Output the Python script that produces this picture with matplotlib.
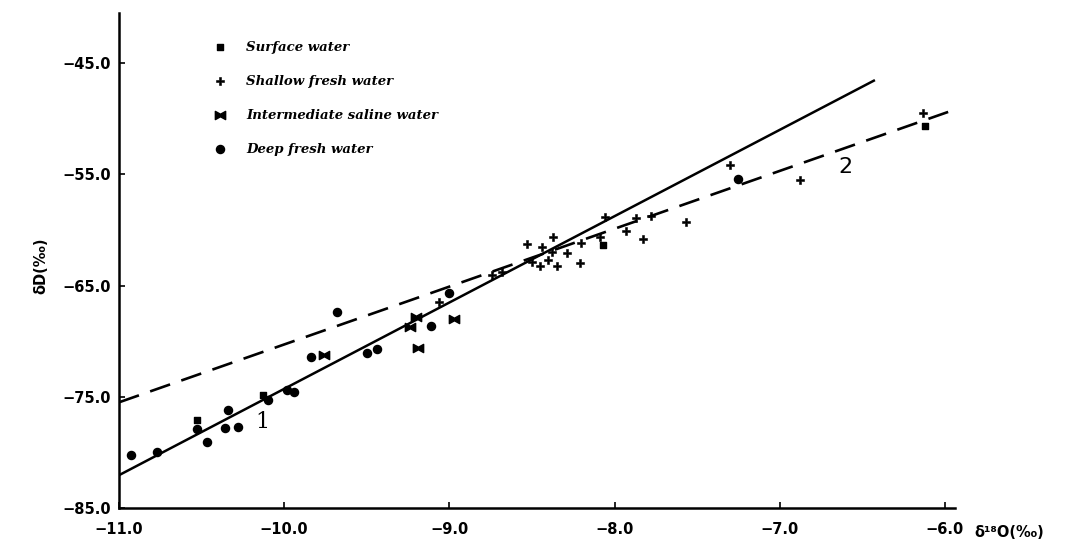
"""
dD vs d18O scatter with two regression lines (scanned figure recreation).
"""

import numpy as np
import matplotlib
matplotlib.use("Agg")
import matplotlib.pyplot as plt
from matplotlib.path import Path

# ── Data ───────────────────────────────────────────────────────────────
surface_d18o = [-10.53, -10.13, -8.07, -6.12]
surface_dd   = [-77.1, -74.85, -61.37, -50.7]

shallow_d18o = [-9.06, -8.74, -8.68, -8.53, -8.50, -8.45, -8.44, -8.40, -8.38,
                -8.37, -8.35, -8.29, -8.21, -8.20, -8.09, -8.06, -7.93, -7.87,
                -7.83, -7.78, -7.57, -7.30, -6.88, -6.13]
shallow_dd   = [-66.46, -64.07, -63.77, -61.28, -62.87, -63.26, -61.5, -62.7,
                -61.97, -60.6, -63.26, -62.06, -62.96, -61.2, -60.6, -58.8,
                -60.1, -58.9, -60.85, -58.76, -59.27, -54.17, -55.5, -49.5]

inter_d18o = [-9.76, -9.24, -9.20, -9.19, -8.97]
inter_dd   = [-71.26, -68.7, -67.8, -70.6, -68.05]

deep_d18o = [-10.93, -10.77, -10.53, -10.47, -10.36, -10.34, -10.28, -10.10,
             -9.98, -9.94, -9.84, -9.68, -9.50, -9.44, -9.11, -9.00, -7.25]
deep_dd   = [-80.25, -79.95, -77.9, -79.06, -77.85, -76.2, -77.7, -75.3,
             -74.4, -74.55, -71.4, -67.36, -71.1, -70.7, -68.65, -65.65, -55.46]

# regression lines: (x range, intercept at x=-11, slope)
line1_x = [-11.0, -6.43]
line1_y0, line1_slope = -82.05, 7.76
line2_x = [-11.0, -5.98]
line2_y0, line2_slope = -75.5, 5.20

xticks = [-11.0, -10.0, -9.0, -8.0, -7.0, -6.0]
yticks = [-85.0, -75.0, -65.0, -55.0, -45.0]

# ── Plot ───────────────────────────────────────────────────────────────
plt.rcParams["font.family"] = ["DejaVu Sans"]

bowtie = Path([(-1, -0.8), (-1, 0.8), (0, 0.25), (1, 0.8), (1, -0.8),
               (0, -0.25), (-1, -0.8)],
              [Path.MOVETO] + [Path.LINETO] * 5 + [Path.CLOSEPOLY])

fig = plt.figure(figsize=(10.77, 5.47), dpi=100)
ax = fig.add_axes([0.1105, 0.0713, 0.776, 0.905])

x1 = np.array(line1_x)
ax.plot(x1, line1_y0 + line1_slope * (x1 + 11), color="black", lw=1.8)
x2 = np.array(line2_x)
ax.plot(x2, line2_y0 + line2_slope * (x2 + 11), color="black", lw=1.9,
        dashes=(8, 4.5))

ax.scatter(surface_d18o, surface_dd, marker="s", s=24, color="black",
           label="Surface water", zorder=3)
ax.scatter(shallow_d18o, shallow_dd, marker="P", s=32, color="black",
           edgecolors="black", linewidths=0.4,
           label="Shallow fresh water", zorder=3)
ax.scatter(inter_d18o, inter_dd, marker=bowtie, s=55, color="black",
           label="Intermediate saline water", zorder=3)
ax.scatter(deep_d18o, deep_dd, marker="o", s=34, color="black",
           label="Deep fresh water", zorder=3)

ax.text(-10.13, -77.3, "1", fontsize=16, family="DejaVu Serif",
        ha="center", va="center")
ax.text(-6.60, -54.35, "2", fontsize=16, family="DejaVu Sans",
        ha="center", va="center")

ax.set_xlim(-11.0, -5.94)
ax.set_ylim(-85.0, -40.5)
ax.set_xticks(xticks)
ax.set_yticks(yticks)
ax.set_xticklabels([f"{v:.1f}".replace("-", "\u2212") for v in xticks],
                   fontsize=10.5, fontweight="bold")
ax.set_yticklabels([f"{v:.1f}".replace("-", "\u2212") for v in yticks],
                   fontsize=10.5, fontweight="bold")
ax.tick_params(axis="y", direction="in", length=4, width=1.2, pad=6)
ax.tick_params(axis="x", direction="in", length=4, width=1.2, pad=10)
for side in ("top", "right"):
    ax.spines[side].set_visible(False)
for side in ("left", "bottom"):
    ax.spines[side].set_linewidth(1.8)

fig.text(0.905, 0.027, "\u03b4\u00b9\u2078O(\u2030)", fontsize=10.5,
         fontweight="bold", ha="left", va="center")
fig.text(0.038, 0.515, "\u03b4D(\u2030)", fontsize=10.5, fontweight="bold",
         rotation=90, ha="center", va="center")

leg = ax.legend(loc="upper left", bbox_to_anchor=(0.108, 0.955),
                frameon=False, labelspacing=1.6, handletextpad=1.6,
                handlelength=0.8, borderaxespad=0,
                prop={"family": "DejaVu Serif", "weight": "bold",
                      "style": "italic", "size": 9.5})

fig.savefig("out.png", dpi=100)
